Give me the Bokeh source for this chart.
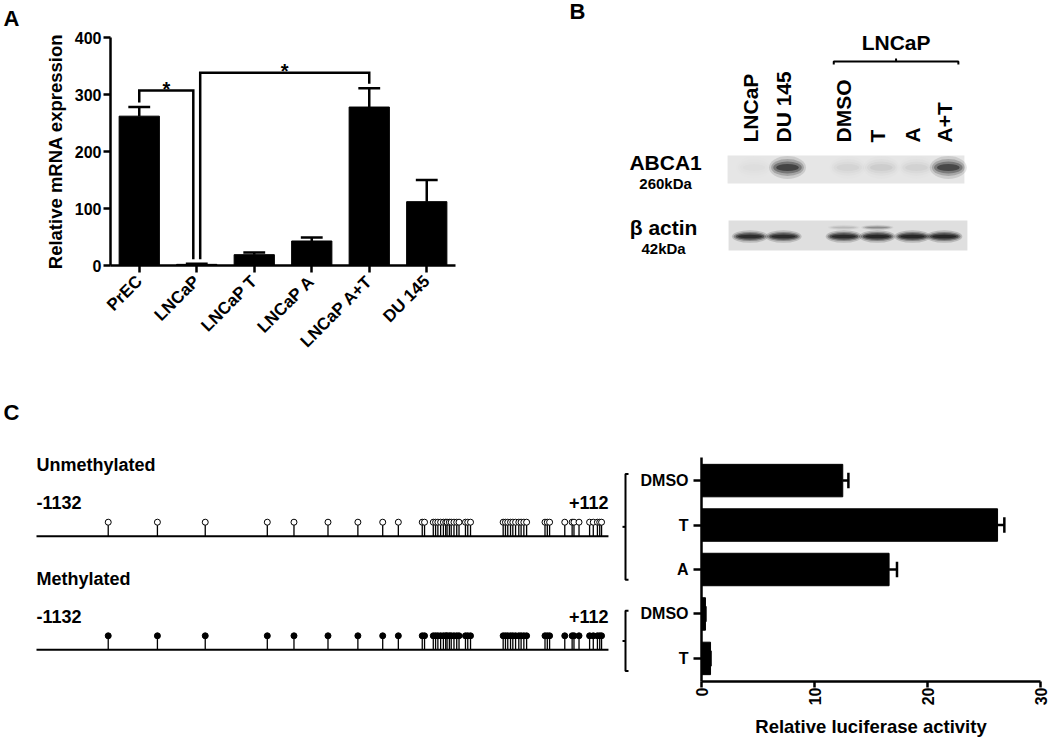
import math
from bokeh.plotting import figure
from bokeh.layouts import column, row
from bokeh.models import Range1d, FixedTicker
from bokeh.core.properties import value
from bokeh.embed import file_html
from bokeh.resources import INLINE

FONT = "Liberation Sans"

# ---------------- data ----------------
# Panel A : relative ABCA1 mRNA expression
a_categories = ["PrEC", "LNCaP", "LNCaP T", "LNCaP A", "LNCaP A+T", "DU 145"]
a_mean = [262, 2, 19, 43, 278, 112]
a_sem = [16, 1, 4, 6, 33, 38]
a_yticks = [0, 100, 200, 300, 400]
a_sig_pairs = [(0, 1), (1, 4)]
a_sig_levels = [307, 338]
a_sig_marks = ["*", "*"]

# Panel B : western blot (relative band intensities)
b_lanes = ["LNCaP", "DU 145", "DMSO", "T", "A", "A+T"]
b_lane_pos = [0.0, 1.0, 2.8, 3.8, 4.85, 5.8]
b_abca1 = [0.03, 0.95, 0.07, 0.1, 0.08, 0.9]
b_actin = [0.9, 0.9, 0.92, 0.95, 0.95, 0.95]
b_actin_upper = [0.0, 0.0, 0.12, 0.3, 0.0, 0.0]
b_group = "LNCaP"
b_group_lanes = (2, 5)
b_rows = ["ABCA1", "\u03b2 actin"]
b_row_kda = ["260kDa", "42kDa"]

# Panel C : CpG map and luciferase reporter
c_region = (-1132, 112)
c_cpg = [-976, -869, -765, -630, -572, -498, -433, -379, -345,
         -293, -288, -269, -264, -259, -253, -247, -242, -239, -234, -230,
         -224, -218, -213, -199, -194, -188,
         -117, -112, -107, -101, -96, -90, -83, -78, -72, -66,
         -26, -21, -16, 17, 33, 37, 48, 71, 79, 88, 93, 97]
c_tracks = ["Unmethylated", "Methylated"]
c_bar_labels = ["DMSO", "T", "A", "DMSO", "T"]
c_bar_groups = [(0, 2), (3, 4)]
c_mean = [12.5, 26.2, 16.6, 0.35, 0.8]
c_sem = [0.5, 0.6, 0.7, 0.0, 0.0]
c_xticks = [0, 10, 20, 30]

# ---------------- helpers ----------------
TOP_H = 380
BOT_H = 360


def base(p):
    p.xgrid.grid_line_color = None
    p.ygrid.grid_line_color = None
    p.outline_line_color = None
    p.background_fill_color = "white"
    p.border_fill_color = "white"


def style_axis(ax, tick_out=7, standoff=2, size="16px"):
    ax.axis_line_color = "black"
    ax.axis_line_width = 2.5
    ax.major_tick_line_color = "black"
    ax.major_tick_line_width = 2.5
    ax.major_tick_in = 0
    ax.major_tick_out = tick_out
    ax.minor_tick_line_color = None
    ax.major_label_standoff = standoff
    ax.major_label_text_font = FONT
    ax.major_label_text_font_style = "bold"
    ax.major_label_text_font_size = size
    ax.major_label_text_color = "black"
    ax.axis_label_text_font = FONT
    ax.axis_label_text_font_style = "bold"
    ax.axis_label_text_font_size = "18.5px"
    ax.axis_label_text_color = "black"


def txt(p, x, y, t, size, align="left", baseline="middle", angle=0.0, y_offset=0):
    p.text(x=x, y=y, text=t, angle=angle, y_offset=y_offset,
           text_font=value(FONT), text_font_style="bold",
           text_font_size=value(size), text_align=align,
           text_baseline=baseline, text_color="black")


# ---------------- Panel A ----------------
nA = len(a_categories)
xs = list(range(1, nA + 1))
pA = figure(width=568, height=TOP_H, x_range=Range1d(0.5, nA + 0.5), y_range=Range1d(0, 400),
            output_backend="svg", toolbar_location=None,
            min_border_left=110, min_border_right=113, min_border_top=37, min_border_bottom=115)
base(pA)
pA.vbar(x=xs, top=a_mean, width=0.7, fill_color="black", line_color="black")
a_tops = [m + s for m, s in zip(a_mean, a_sem)]
pA.segment(x0=xs, y0=a_mean, x1=xs, y1=a_tops, line_color="black", line_width=2.5)
cap = 0.19
pA.segment(x0=[x - cap for x in xs], y0=a_tops, x1=[x + cap for x in xs], y1=a_tops,
           line_color="black", line_width=2.5)

gap, shift = 8, 0.06
bxs, bys, sx_, sy_ = [], [], [], []
for k, ((i, j), h) in enumerate(zip(a_sig_pairs, a_sig_levels)):
    xl = xs[i] + (shift if k > 0 and i in a_sig_pairs[k - 1] else 0)
    xr = xs[j] - (shift if k + 1 < len(a_sig_pairs) and j in a_sig_pairs[k + 1] else 0)
    bxs.append([xl, xl, xr, xr])
    bys.append([a_tops[i] + gap, h, h, a_tops[j] + gap])
    sx_.append((xl + xr) / 2)
    sy_.append(h)
pA.multi_line(bxs, bys, line_color="black", line_width=2.5, line_join="miter")
txt(pA, sx_, sy_, a_sig_marks, "20px", align="center", baseline="middle", y_offset=-1.5)

pA.yaxis.ticker = FixedTicker(ticks=a_yticks)
pA.xaxis.ticker = FixedTicker(ticks=xs)
pA.xaxis.major_label_overrides = {x: c for x, c in zip(xs, a_categories)}
pA.xaxis.major_label_orientation = math.pi / 4
style_axis(pA.yaxis[0], 7, 2)
style_axis(pA.xaxis[0], 7, 6, "17px")
pA.yaxis.axis_label = "Relative mRNA expression"
pA.yaxis.axis_label_standoff = 6
pA.title.text = "A"
pA.title.text_font = FONT
pA.title.text_font_style = "bold"
pA.title.text_font_size = "22px"
pA.title.text_color = "black"
pA.title.align = "left"
pA.title.vertical_align = "top"
pA.title.offset = -107
pA.title.standoff = 9

# ---------------- Panel B ----------------
nB = len(b_lanes)
B_W = 481
LANE_PX = 33.5
lane0_sx = 749.5
bx0 = (568 - lane0_sx) / LANE_PX
pB = figure(width=B_W, height=TOP_H, x_range=Range1d(bx0, bx0 + B_W / LANE_PX),
            y_range=Range1d(0, TOP_H),
            output_backend="svg", toolbar_location=None, x_axis_location=None,
            y_axis_location=None, min_border=0)
base(pB)
abca_y, actin_y = 213, 144
pB.quad(left=[b_lane_pos[0] - 0.67, b_lane_pos[0] - 0.64],
        right=[b_lane_pos[-1] + 0.6, b_lane_pos[-1] + 0.69],
        bottom=[abca_y - 16, actin_y - 14], top=[abca_y + 12, actin_y + 16],
        fill_color=["#e6e6e6", "#dfdfdf"], line_color=None)


def bands(xc, yc, levels, w, h, layers):
    for sw, sh, a in layers:
        pB.ellipse(x=xc, y=[yc] * len(xc), width=w * sw, height=h * sh,
                   fill_color="black", fill_alpha=[a * l for l in levels], line_color=None)


soft = [(1.3, 1.9, 0.12), (1.15, 1.4, 0.2), (1.0, 1.0, 0.3), (0.8, 0.6, 0.45)]
sharp = [(1.2, 1.8, 0.18), (1.08, 1.3, 0.3), (0.95, 0.9, 0.45), (0.8, 0.5, 0.5)]
bands([p + 0.12 for p in b_lane_pos], abca_y, b_abca1, 0.85, 12, soft)
bands(b_lane_pos, actin_y, b_actin, 0.9, 7, sharp)
bands(b_lane_pos, actin_y + 9, b_actin_upper, 0.8, 3, sharp)

txt(pB, b_lane_pos, [238] * nB, b_lanes, "21px", align="left", baseline="middle", angle=math.pi / 2)
g0, g1 = b_lane_pos[b_group_lanes[0]] - 0.3, b_lane_pos[b_group_lanes[1]] + 0.42
gc = (g0 + g1) / 2
pB.multi_line([[g0, g0, g1, g1], [gc, gc]], [[316, 319, 319, 316], [319, 322]],
              line_color="black", line_width=2)
txt(pB, [gc], [338], [b_group], "21px", align="center")
txt(pB, [-2.52, -2.58], [218, 153], b_rows, "21px", align="center")
txt(pB, [-2.52, -2.58], [197, 132], b_row_kda, "15px", align="center")
txt(pB, [bx0 + 0.03], [369], ["B"], "22px", baseline="middle")

# ---------------- Panel C (CpG map) ----------------
BP_PER_PX = 2.175
C1_W = 632
c_x0 = c_region[0] - 36 * BP_PER_PX
c_x1 = c_x0 + C1_W * BP_PER_PX
pC1 = figure(width=C1_W, height=BOT_H, x_range=Range1d(c_x0, c_x1), y_range=Range1d(0, BOT_H),
             output_backend="svg", toolbar_location=None, x_axis_location=None,
             y_axis_location=None, min_border=0)
base(pC1)
track_base = [204.3, 90.7]
stem_h = 14
nc = len(c_cpg)
for k, (name, yb) in enumerate(zip(c_tracks, track_base)):
    pC1.segment(x0=[c_region[0]], x1=[c_region[1]], y0=[yb], y1=[yb],
                line_color="black", line_width=2)
    pC1.segment(x0=c_cpg, x1=c_cpg, y0=[yb] * nc, y1=[yb + stem_h] * nc,
                line_color="black", line_width=1.3)
    pC1.scatter(x=c_cpg, y=[yb + stem_h] * nc, marker="circle", size=6,
                fill_color="white" if k == 0 else "black", line_color="black", line_width=1)
    txt(pC1, [c_region[0]], [yb + 71], [name], "18px")
    txt(pC1, [c_region[0]], [yb + 33.5], [str(c_region[0])], "18px")
    txt(pC1, [c_region[1]], [yb + 33.5], ["+%d" % c_region[1]], "18px", align="right")
txt(pC1, [c_x0 + 3 * BP_PER_PX], [328], ["C"], "22px", baseline="middle")

# ---------------- Panel C (luciferase bars) ----------------
C2_TOP, C2_FH = 77, 230
C2_W = 417
C2_LEFT, C2_FW = 69, 339
nbar = len(c_bar_labels)
yv = list(range(nbar, 0, -1))
c_yr = (0.481, 5.519)
pC2 = figure(width=C2_W, height=BOT_H, x_range=Range1d(0, 30), y_range=Range1d(*c_yr),
             output_backend="svg", toolbar_location=None,
             min_border_left=C2_LEFT, min_border_right=C2_W - C2_LEFT - C2_FW,
             min_border_top=C2_TOP, min_border_bottom=BOT_H - C2_TOP - C2_FH)
base(pC2)
pC2.hbar(y=yv, left=0, right=c_mean, height=0.73, fill_color="black", line_color="black")
c_ends = [m + s for m, s in zip(c_mean, c_sem)]
pC2.segment(x0=c_mean, x1=c_ends, y0=yv, y1=yv, line_color="black", line_width=2.5)
pC2.segment(x0=c_ends, x1=c_ends, y0=[v - 0.175 for v in yv], y1=[v + 0.175 for v in yv],
            line_color="black", line_width=2.5)
pC2.yaxis.ticker = FixedTicker(ticks=yv)
pC2.yaxis.major_label_overrides = {v: l for v, l in zip(yv, c_bar_labels)}
pC2.xaxis.ticker = FixedTicker(ticks=c_xticks)
pC2.xaxis.major_label_orientation = math.pi / 2
style_axis(pC2.yaxis[0], 8, 5)
style_axis(pC2.xaxis[0], 6, 0)
pC2.xaxis.axis_label = "Relative luciferase activity"
pC2.xaxis.axis_label_standoff = 8


# group brackets beside the bar labels (drawn in the C1 canvas, same rows)
def cat_to_c1y(v):
    sy = C2_TOP + (c_yr[1] - v) / (c_yr[1] - c_yr[0]) * C2_FH
    return BOT_H - sy


brx = c_x0 + 625 * BP_PER_PX
serif = 3 * BP_PER_PX
bxl, byl = [], []
for g0_, g1_ in c_bar_groups:
    ytop = cat_to_c1y(yv[g0_] + 0.16)
    ybot = cat_to_c1y(yv[g1_] - 0.16)
    ymid = (ytop + ybot) / 2
    bxl.append([brx + serif, brx, brx, brx + serif])
    byl.append([ytop, ytop, ybot, ybot])
    bxl.append([brx, brx - serif])
    byl.append([ymid, ymid])
pC1.multi_line(bxl, byl, line_color="black", line_width=2)

layout = column(row(column(pA), column(pB)), row(column(pC1), column(pC2)))
open("out.html", "w").write(file_html(layout, INLINE, title="ABCA1"))
